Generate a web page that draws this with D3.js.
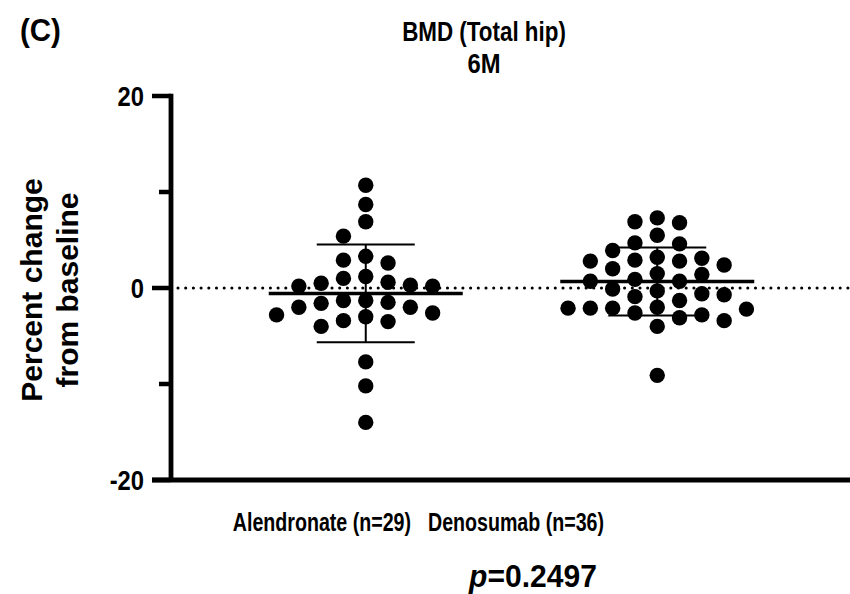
<!DOCTYPE html>
<html>
<head>
<meta charset="utf-8">
<script src="https://cdn.jsdelivr.net/npm/d3@7"></script>
<style>
  body { margin: 0; background: #fff; }
  text { font-family: "Liberation Sans", Arial, sans-serif; font-weight: bold; fill: #000; }
</style>
</head>
<body>
<div id="chart"></div>
<script>
// groups and per-subject % change in total hip BMD at 6 months
var groups = ["Alendronate (n=29)", "Denosumab (n=36)"];

var alendronate = [10.7, 8.7, 6.9, 5.4, 0.3, -1.3, -3.0, -7.7, -10.2, -14.0,
    0.2, -2.6, 0.6, -2.0, 2.6, 1.0, -1.3, 3.3, -2.0, -4.0,
    1.2, -1.6, -3.4, 2.9, 0.2, -1.5, -3.5, 0.5, -2.8];

var denosumab = [7.3, 5.5, 2.4, 0.7, -3.4, 6.9, 2.8, 0.9, -0.9, -2.8, -9.1,
    6.8, 3.1, -2.1, -4.0, 4.7, 3.2, 1.5, -0.7, -2.6,
    2.9, 1.4, -0.6, -2.1, -2.2, 4.6, 2.8, 0.7, -1.3, -3.1,
    3.9, 2.0, -0.1, -2.1, -0.3, -2.0];

var yTicks = [-20, -10, 0, 10, 20];
var yLabels = [-20, 0, 20];

var width = 850, height = 594;

var svg = d3.select("#chart").append("svg")
    .attr("width", width)
    .attr("height", height);

var y = d3.scaleLinear().domain([-20, 20]).range([480, 96]);
var x = d3.scalePoint().domain(groups).range([220, 803]).padding(0.5);

var axisX = 171;
var r = 7.7, colStep = 22.3;

// the figure uses a condensed bold face, so squeeze Liberation Sans a bit
function label(px, py, str, size, sx, anchor) {
    return svg.append("text")
        .attr("transform", "translate(" + px + "," + py + ") scale(" + sx + ",1)")
        .attr("text-anchor", anchor || "start")
        .style("font-size", size + "px")
        .text(str);
}

// zero reference line (dotted)
svg.append("line")
    .attr("x1", axisX + 7).attr("x2", width)
    .attr("y1", y(0)).attr("y2", y(0))
    .attr("stroke", "#000")
    .attr("stroke-width", 3.1)
    .attr("stroke-linecap", "round")
    .attr("stroke-dasharray", "0,7.7");

// simple column swarm: each point goes to the nearest free column
function swarm(values) {
    var cols = {};
    var sorted = values.map(function (v, i) { return {v: v, i: i}; })
        .sort(function (a, b) { return b.v - a.v; });
    var order = [0, -1, 1, -2, 2, -3, 3, -4, 4, -5, 5, -6, 6];
    sorted.forEach(function (d) {
        var py = y(d.v);
        for (var k = 0; k < order.length; k++) {
            var c = order[k];
            var taken = (cols[c] || []).some(function (q) { return Math.abs(q - py) < 2 * r; });
            if (!taken) {
                (cols[c] = cols[c] || []).push(py);
                d.col = c;
                break;
            }
        }
    });
    return sorted;
}

var data = [alendronate, denosumab];

data.forEach(function (vals, gi) {
    var cx = x(groups[gi]);
    var pts = swarm(vals);

    svg.append("g").selectAll("circle")
        .data(pts)
        .enter().append("circle")
        .attr("cx", function (d) { return cx + d.col * colStep; })
        .attr("cy", function (d) { return y(d.v); })
        .attr("r", r)
        .attr("fill", "#000");

    var m = d3.mean(vals), sd = d3.deviation(vals);

    // mean
    svg.append("line")
        .attr("x1", cx - 97).attr("x2", cx + 97)
        .attr("y1", y(m)).attr("y2", y(m))
        .attr("stroke", "#000").attr("stroke-width", 3.5);

    // SD whisker
    svg.append("line")
        .attr("x1", cx).attr("x2", cx)
        .attr("y1", y(m + sd)).attr("y2", y(m - sd))
        .attr("stroke", "#000").attr("stroke-width", 2);
    [m + sd, m - sd].forEach(function (v) {
        svg.append("line")
            .attr("x1", cx - 49).attr("x2", cx + 49)
            .attr("y1", y(v)).attr("y2", y(v))
            .attr("stroke", "#000").attr("stroke-width", 2);
    });
});

// y axis
svg.append("line")
    .attr("x1", axisX).attr("x2", axisX)
    .attr("y1", y(20) - 2.2).attr("y2", y(-20))
    .attr("stroke", "#000").attr("stroke-width", 4.8);

svg.selectAll(".tick")
    .data(yTicks)
    .enter().append("line")
    .attr("class", "tick")
    .attr("x1", function (d) { return d % 20 === 0 ? 152 : 159; })
    .attr("x2", axisX)
    .attr("y1", function (d) { return y(d); })
    .attr("y2", function (d) { return y(d); })
    .attr("stroke", "#000").attr("stroke-width", 4.5);

yLabels.forEach(function (d) {
    label(144, y(d) + 9.5, d, 27, 0.88, "end");
});

// x axis
svg.append("line")
    .attr("x1", 152).attr("x2", width)
    .attr("y1", y(-20)).attr("y2", y(-20))
    .attr("stroke", "#000").attr("stroke-width", 4.8);

// category labels
label(411, 531, groups[0], 26, 0.755, "end");
label(428, 531, groups[1], 26, 0.755, "start");

// p value
var p = label(533, 587, "", 31, 0.97, "middle");
p.append("tspan").style("font-style", "italic").text("p");
p.append("tspan").text("=0.2497");

// titles
label(20, 41, "(C)", 32, 0.92);
label(484, 41, "BMD (Total hip)", 28, 0.8, "middle");
label(484, 73, "6M", 28, 0.85, "middle");

// y axis title
var yt = svg.append("text")
    .attr("transform", "translate(49,290) rotate(-90)")
    .attr("text-anchor", "middle")
    .style("font-size", "30px");
yt.append("tspan").attr("x", 0).attr("dy", -7).text("Percent change");
yt.append("tspan").attr("x", 0).attr("dy", 36).text("from baseline");
</script>
</body>
</html>
